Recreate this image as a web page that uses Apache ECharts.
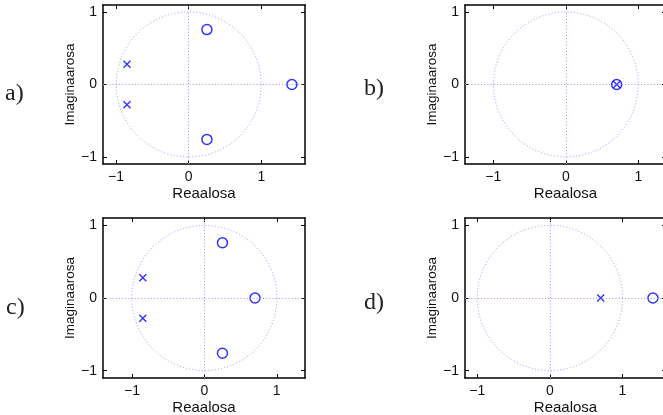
<!DOCTYPE html>
<html>
<head>
<meta charset="utf-8">
<script src="https://cdn.jsdelivr.net/npm/echarts@6/dist/echarts.min.js"></script>
<style>
  html, body { margin: 0; padding: 0; background: #fff; }
  #chart { width: 663px; height: 415px; }
</style>
</head>
<body>
<div id="chart"></div>
<script>
// pole-zero data per panel, [re, im]
var panelNames = ['a)', 'b)', 'c)', 'd)'];
var zerosA = [[0.25, 0.76], [0.25, -0.76], [1.42, 0]];
var polesA = [[-0.85, 0.28], [-0.85, -0.28]];
var zerosB = [[0.7, 0]];
var polesB = [[0.7, 0]];
var zerosC = [[0.25, 0.76], [0.25, -0.76], [0.7, 0]];
var polesC = [[-0.85, 0.28], [-0.85, -0.28]];
var zerosD = [[1.42, 0]];
var polesD = [[0.7, 0]];
var tickValues = [-1, 0, 1];
var xLims = [[-1.18, 1.6], [-1.39, 1.38], [-1.4, 1.39], [-1.17, 1.6]];
var yLim = [-1.1, 1.1];

var zeros = [zerosA, zerosB, zerosC, zerosD];
var poles = [polesA, polesB, polesC, polesD];

var grids = [
  { left: 103, top: 5, width: 202, height: 159, outerBoundsMode: 'none' },
  { left: 465, top: 5, width: 201, height: 159, outerBoundsMode: 'none' },
  { left: 103, top: 218, width: 202, height: 160, outerBoundsMode: 'none' },
  { left: 465, top: 218, width: 201, height: 160, outerBoundsMode: 'none' }
];
var labelPos = [[5, 82], [364, 77], [6, 296], [364, 291]];

var blue = '#0000ff';
var dotColor = '#9494ff';
var font = 'Liberation Sans, Arial, sans-serif';

function fmt(v) { return String(v).replace('-', '\u2212'); }

function axisCommon(pos, showLabel) {
  return {
    type: 'value',
    position: pos,
    splitLine: { show: false },
    axisLine: { show: true, onZero: false, lineStyle: { color: '#000', width: 1.5 } },
    axisTick: { show: true, inside: true, length: 4, customValues: tickValues,
                lineStyle: { color: '#000', width: 1 } },
    axisLabel: { show: showLabel, customValues: tickValues, formatter: fmt,
                 color: '#111', fontSize: 14, fontFamily: font, margin: 6 }
  };
}

var xAxes = [], yAxes = [], series = [], graphics = [];
for (var i = 0; i < 4; i++) {
  var xb = axisCommon('bottom', true);
  xb.gridIndex = i; xb.min = xLims[i][0]; xb.max = xLims[i][1];
  xb.name = 'Reaalosa'; xb.nameLocation = 'middle'; xb.nameGap = 22;
  xb.nameTextStyle = { color: '#111', fontSize: 15, fontFamily: font, verticalAlign: 'top' };
  var xt = axisCommon('top', false);
  xt.gridIndex = i; xt.min = xLims[i][0]; xt.max = xLims[i][1];
  var yl = axisCommon('left', true);
  yl.gridIndex = i; yl.min = yLim[0]; yl.max = yLim[1];
  yl.name = 'Imaginaarosa'; yl.nameLocation = 'middle'; yl.nameGap = 25;
  yl.nameTextStyle = { color: '#111', fontSize: 13.5, fontFamily: font };
  var yr = axisCommon('right', false);
  yr.gridIndex = i; yr.min = yLim[0]; yr.max = yLim[1];
  xAxes.push(xb, xt);
  yAxes.push(yl, yr);

  // unit circle
  series.push({
    type: 'custom',
    xAxisIndex: 2 * i, yAxisIndex: 2 * i,
    data: [[0, 0]],
    silent: true,
    renderItem: function (params, api) {
      var c = api.coord([api.value(0), api.value(1)]);
      var s = api.size([1, 1]);
      return {
        type: 'circle',
        shape: { cx: c[0], cy: c[1], r: (s[0] + s[1]) / 2 },
        style: { fill: 'none', stroke: dotColor, lineWidth: 1, lineDash: [1, 2.2] }
      };
    }
  });
  // zeros
  series.push({
    type: 'scatter',
    xAxisIndex: 2 * i, yAxisIndex: 2 * i,
    data: zeros[i],
    symbol: 'circle',
    symbolSize: 10,
    itemStyle: { color: 'transparent', borderColor: blue, borderWidth: 1.5 },
    markLine: {
      silent: true, symbol: 'none', label: { show: false },
      lineStyle: { color: dotColor, type: [1, 2.2], width: 1 },
      data: [{ xAxis: 0 }, { yAxis: 0 }]
    },
    z: 3
  });
  // poles
  series.push({
    type: 'scatter',
    xAxisIndex: 2 * i, yAxisIndex: 2 * i,
    data: poles[i],
    symbol: 'path://M0,0L1,1M1,0L0,1',
    symbolSize: 7,
    itemStyle: { color: 'transparent', borderColor: blue, borderWidth: 1.4 },
    z: 4
  });

  graphics.push({
    type: 'text', left: labelPos[i][0], top: labelPos[i][1],
    style: { text: panelNames[i], font: '24px "Liberation Serif", serif', fill: '#222' }
  });
}

var chart = echarts.init(document.getElementById('chart'));
chart.setOption({
  animation: false,
  backgroundColor: '#fff',
  grid: grids,
  xAxis: xAxes,
  yAxis: yAxes,
  series: series,
  graphic: graphics
});
</script>
</body>
</html>
